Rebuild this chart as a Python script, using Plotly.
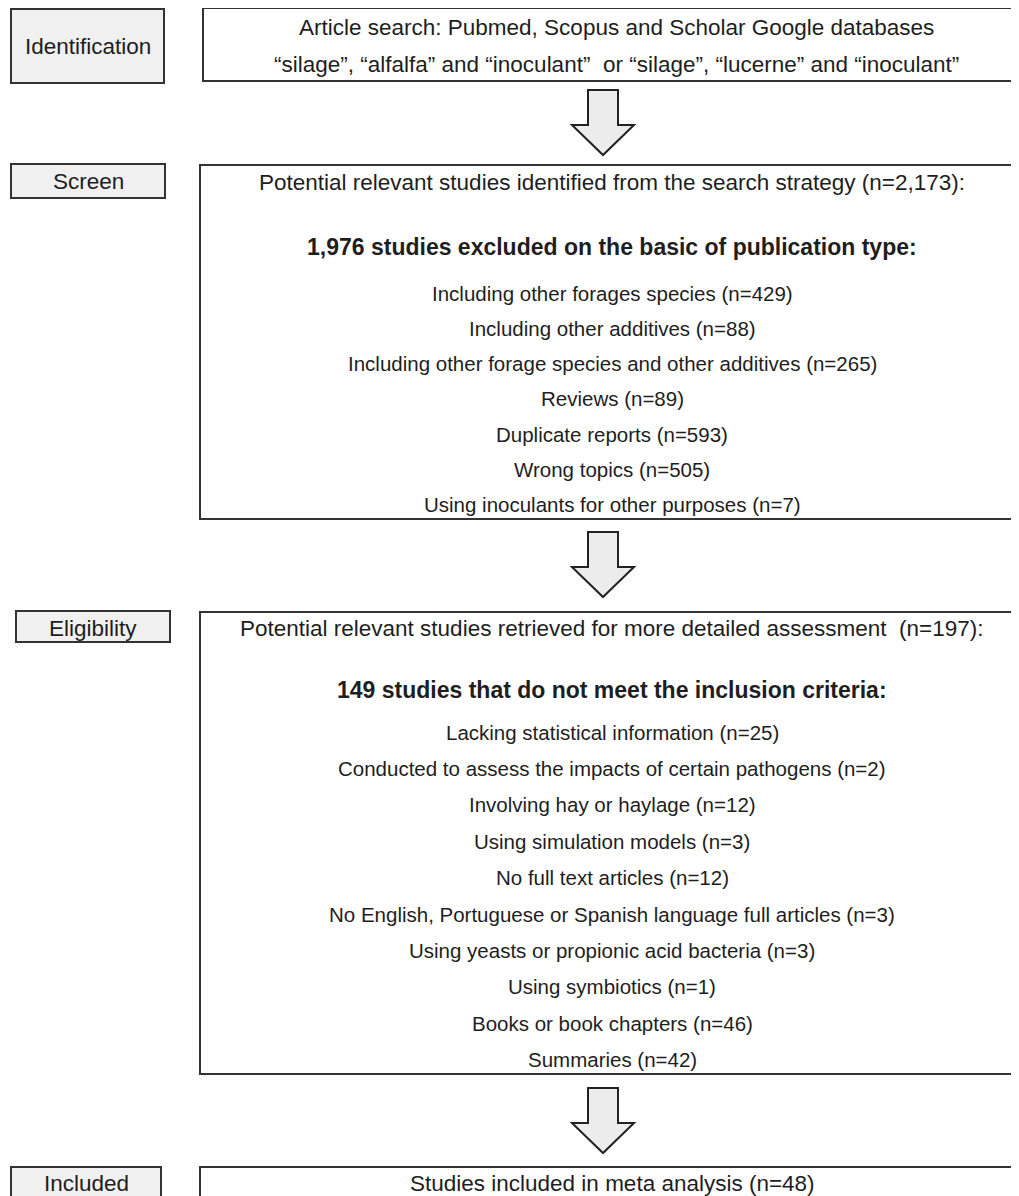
import plotly.graph_objects as go

# ---- data (text content) ----
stage_labels = ["Identification", "Screen", "Eligibility", "Included"]

ident_lines = [
    "Article search: Pubmed, Scopus and Scholar Google databases",
    "“silage”, “alfalfa” and “inoculant”  or “silage”, “lucerne” and “inoculant”",
]

screen_title = "Potential relevant studies identified from the search strategy (n=2,173):"
screen_header = "1,976 studies excluded on the basic of publication type:"
screen_items = [
    "Including other forages species (n=429)",
    "Including other additives (n=88)",
    "Including other forage species and other additives (n=265)",
    "Reviews (n=89)",
    "Duplicate reports (n=593)",
    "Wrong topics (n=505)",
    "Using inoculants for other purposes (n=7)",
]

elig_title = "Potential relevant studies retrieved for more detailed assessment  (n=197):"
elig_header = "149 studies that do not meet the inclusion criteria:"
elig_items = [
    "Lacking statistical information (n=25)",
    "Conducted to assess the impacts of certain pathogens (n=2)",
    "Involving hay or haylage (n=12)",
    "Using simulation models (n=3)",
    "No full text articles (n=12)",
    "No English, Portuguese or Spanish language full articles (n=3)",
    "Using yeasts or propionic acid bacteria (n=3)",
    "Using symbiotics (n=1)",
    "Books or book chapters (n=46)",
    "Summaries (n=42)",
]

included_line = "Studies included in meta analysis (n=48)"

# ---- layout (pixel coordinates of the page) ----
W, H = 1019, 1196
OFF = 8  # page body margin
FONT = "Liberation Sans, Arial, sans-serif"
FS_T = 22.5   # titles / labels
FS_B = 23     # bold headers
FS_I = 20.5   # list items
TXT = "#1e1e1e"
LINE = "#333333"
LABEL_FILL = "#f0f0f0"
ARROW_FILL = "#ececec"
CX = 612

fig = go.Figure()
shapes = []
ann = []


def box(x0, y0, x1, y1, fill="white"):
    shapes.append(dict(type="rect", xref="x", yref="y", x0=x0, y0=y0, x1=x1, y1=y1,
                       line=dict(color=LINE, width=2), fillcolor=fill, layer="below"))


def text(x, y, s, size, bold=False):
    ann.append(dict(x=x, y=y, xref="x", yref="y", text=(f"<b>{s}</b>" if bold else s),
                    showarrow=False, xanchor="center", yanchor="middle",
                    font=dict(family=FONT, size=size, color=TXT)))


def arrow(cx, top, head, tip):
    sw, hw = 15, 31
    p = (f"M {cx-sw},{top} L {cx+sw},{top} L {cx+sw},{head} L {cx+hw},{head} "
         f"L {cx},{tip} L {cx-hw},{head} L {cx-sw},{head} Z")
    shapes.append(dict(type="path", xref="x", yref="y", path=p,
                       line=dict(color="#222222", width=2), fillcolor=ARROW_FILL))


# stage label boxes
label_boxes = [(11, 9, 164, 83), (11, 164, 165, 198), (16, 611, 170, 642), (11, 1167, 161, 1230)]
label_y = [46, 181, 628, 1183]
for (x0, y0, x1, y1), yc, s in zip(label_boxes, label_y, stage_labels):
    box(x0, y0, x1, y1, LABEL_FILL)
    text((x0 + x1) / 2, yc, s, FS_T)

# main boxes
box(203, 8, 1040, 81)
text(616, 27, ident_lines[0], FS_T)
text(616, 64, ident_lines[1], FS_T)

box(200, 165, 1040, 519)
text(CX, 182, screen_title, FS_T)
text(CX, 247, screen_header, FS_B, bold=True)
for i, s in enumerate(screen_items):
    text(CX, 293 + i * 35.3, s, FS_I)

box(200, 612, 1040, 1074)
text(CX, 628, elig_title, FS_T)
text(CX, 690, elig_header, FS_B, bold=True)
for i, s in enumerate(elig_items):
    text(CX, 732 + i * 36.4, s, FS_I)

box(200, 1167, 1040, 1240)
text(CX, 1183, included_line, FS_T)

# arrows
arrow(603, 90, 125, 155)
arrow(603, 532, 567, 597)
arrow(603, 1088, 1123, 1153)

fig.update_layout(
    width=W - OFF, height=H - OFF, margin=dict(l=0, r=0, t=0, b=0),
    paper_bgcolor="white", plot_bgcolor="white",
    shapes=shapes, annotations=ann, showlegend=False,
    xaxis=dict(range=[OFF, W], visible=False, fixedrange=True),
    yaxis=dict(range=[H, OFF], visible=False, fixedrange=True),
)
fig.write_html("out.html", config={"displayModeBar": False})
